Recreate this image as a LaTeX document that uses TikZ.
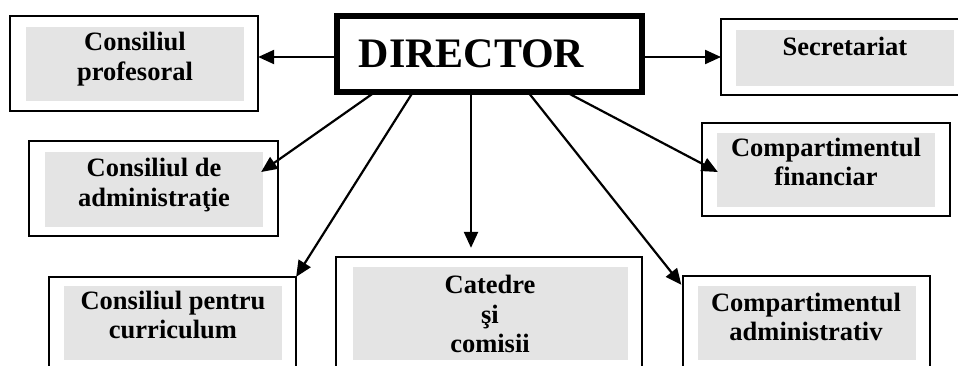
\documentclass[tikz,border=0pt]{standalone}
\usepackage{fontspec}
\setmainfont{Liberation Serif}
\usetikzlibrary{arrows.meta}
\definecolor{boxgray}{HTML}{E4E4E4}
\begin{document}
\begin{tikzpicture}[x=1pt,y=-1pt,
  obox/.style={draw, line width=1.7pt, inner sep=0pt, outer sep=0pt},
  gbox/.style={fill=boxgray, inner sep=0pt, outer sep=0pt},
  lbl/.style={font=\fontsize{26.5}{29.5}\selectfont\bfseries, align=center, inner sep=0pt},
  dirbox/.style={draw, line width=6pt, inner sep=0pt, outer sep=0pt, minimum width=305pt, minimum height=76pt, font=\fontsize{42}{48}\selectfont\bfseries},
  arr/.style={line width=2.2pt, -{Triangle[length=16pt,width=14pt]}}
]
\useasboundingbox (0,0) rectangle (958,365);
\clip (0,0) rectangle (958,365);
% outer boxes
\node[obox, minimum width=248.3pt, minimum height=95.3pt] (prof) at (134,63.5) {};
\node[obox, minimum width=249.3pt, minimum height=95.3pt] (adm) at (153.5,188.5) {};
\node[obox, minimum width=247.3pt, minimum height=148.3pt] (curr) at (172.5,351) {};
\node[obox, minimum width=306.3pt, minimum height=148.3pt] (cat) at (489,331) {};
\node[obox, minimum width=247.3pt, minimum height=148.3pt] (cadm) at (806.5,350) {};
\node[obox, minimum width=248.3pt, minimum height=93.3pt] (fin) at (826,169.5) {};
\node[obox, minimum width=278pt, minimum height=76.3pt] (sec) at (860,57) {};
% gray panels
\node[gbox, minimum width=218pt, minimum height=74pt] (profg) at (135,64) {};
\node[gbox, minimum width=218pt, minimum height=75pt] (admg) at (154,189.5) {};
\node[gbox, minimum width=218pt, minimum height=74pt] (currg) at (173,323) {};
\node[gbox, minimum width=275pt, minimum height=93pt] (catg) at (490.5,313.5) {};
\node[gbox, minimum width=218pt, minimum height=74pt] (cadmg) at (807,323) {};
\node[gbox, minimum width=218pt, minimum height=74pt] (fing) at (826,170) {};
\node[gbox, minimum width=218pt, minimum height=56pt] (secg) at (845,58) {};
% labels
\node[lbl] (proft) at (135,59) {Consiliul\\profesoral};
\node[lbl] (sect) at (845,46) {Secretariat};
\node[lbl] (admt) at (154,185) {Consiliul de\\administraţie};
\node[lbl] (fint) at (826,162) {Compartimentul\\financiar};
\node[lbl] (currt) at (173,315) {Consiliul pentru\\curriculum};
\node[lbl] (catt) at (490,314) {Catedre\\şi\\comisii};
\node[lbl] (cadmt) at (806,317) {Compartimentul\\administrativ};
% director
\node[dirbox] (dir) at (489.5,54) {DIRECTOR\hspace*{36pt}};
% connectors
\coordinate (s1) at ([xshift=38pt]dir.south west);
\coordinate (s2) at ([xshift=76pt]dir.south west);
\coordinate (s3) at ([xshift=134pt]dir.south west);
\coordinate (s4) at ([xshift=191pt]dir.south west);
\coordinate (s5) at ([xshift=229pt]dir.south west);
\coordinate (catin) at ([yshift=9pt]cat.north);
\draw[arr] ([yshift=-3pt]dir.west) -- ([yshift=-3pt]dir.west -| prof.east);
\draw[arr] ([yshift=-3pt]dir.east) -- ([yshift=-3pt]dir.east -| sec.west);
\draw[arr] (s1) -- ([xshift=-17pt,yshift=16.5pt]adm.east);
\draw[arr] (s2) -- (curr.north east);
\draw[arr] (s3) -- (s3 |- catin);
\draw[arr] (s4) -- ([xshift=-1.5pt,yshift=-9pt]cadm.north west);
\draw[arr] (s5) -- ([xshift=16pt,yshift=-2.5pt]fin.west);
\end{tikzpicture}
\end{document}
